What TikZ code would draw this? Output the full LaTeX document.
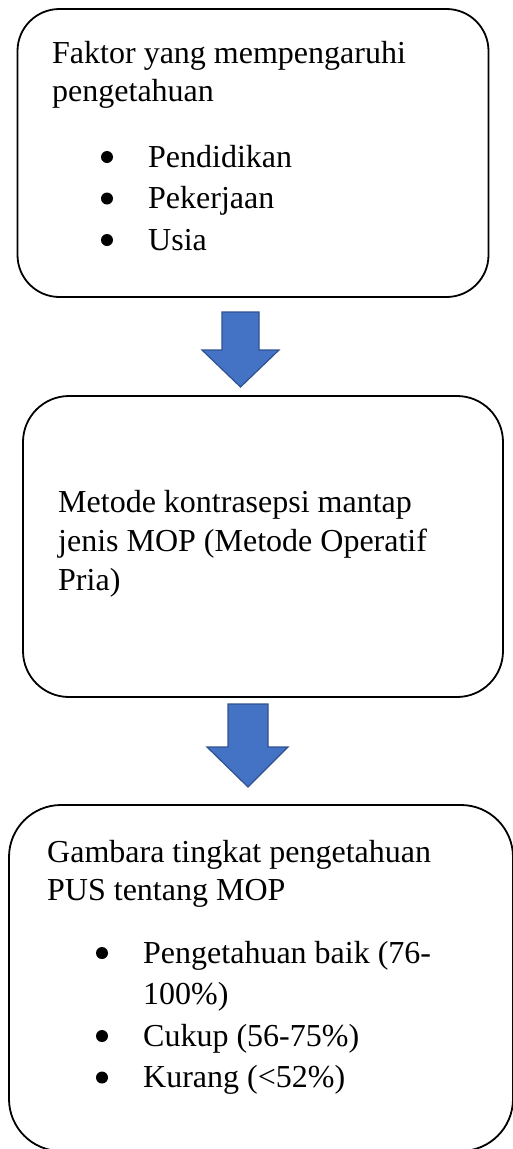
\documentclass[tikz,border=0pt]{standalone}
\usepackage{fontspec}
\setmainfont{Liberation Serif}

\definecolor{arrowblue}{HTML}{4472C4}
\definecolor{arrowedge}{HTML}{2F528F}

\tikzset{
  box/.style={draw, line width=1.8pt, rounded corners=42pt, inner sep=0pt},
  txt/.style={anchor=base west, inner sep=0pt},
  dot/.style={circle, fill, inner sep=0pt, minimum size=12pt},
  panah/.style={fill=arrowblue, draw=arrowedge, line width=1.2pt, line join=miter}
}

\begin{document}
\begin{tikzpicture}[x=1pt, y=-1pt, font=\fontsize{32}{38}\selectfont]
				\useasboundingbox (0,0) rectangle (512,1149);

				% Boxes
				\node[box, minimum width=471pt, minimum height=288pt] (faktor) at (253,153) {};
				\node[box, minimum width=480pt, minimum height=301pt, rounded corners=46pt] (metode) at (263,546.5) {};
				\node[box, minimum width=504pt, minimum height=346pt, rounded corners=52pt] (gambaran) at (261,978) {};

				% Block arrows between the boxes
				\draw[panah] (222,312) -- (259,312) -- (259,350) -- (279,350) -- (240.5,387)
					-- (202,350) -- (222,350) -- cycle;
				\draw[panah] (228,704) -- (268,704) -- (268,747) -- (288,747) -- (248,787)
					-- (207,747) -- (228,747) -- cycle;

				% Text of the first box
				\node[txt] (f1) at (52,63) {Faktor yang mempengaruhi};
				\node[txt] (f2) at (52,101) {pengetahuan};
				\foreach \y/\t in {167/Pendidikan, 208.5/Pekerjaan, 250/Usia} {
					\node[dot] at (107,\y-10) {};
					\node[txt] at (148,\y) {\t};
				}

				% Text of the second box
				\node[txt] (m1) at (58,512) {Metode kontrasepsi mantap};
				\node[txt] (m2) at (58,551) {jenis MOP (Metode Operatif};
				\node[txt] (m3) at (58,590) {Pria)};

				% Text of the third box
				\node[txt] (g1) at (47,862) {Gambara tingkat pengetahuan};
				\node[txt] (g2) at (47,900) {PUS tentang MOP};
				\node[dot] at (102,953) {};
				\node[txt] at (143,963) {Pengetahuan baik (76-};
				\node[txt] at (143,1004.5) {100\%)};
				\node[dot] at (102,1036) {};
				\node[txt] at (143,1046) {Cukup (56-75\%)};
				\node[dot] at (102,1077.5) {};
				\node[txt] at (143,1087.5) {Kurang (<52\%)};
			\end{tikzpicture}
\end{document}
